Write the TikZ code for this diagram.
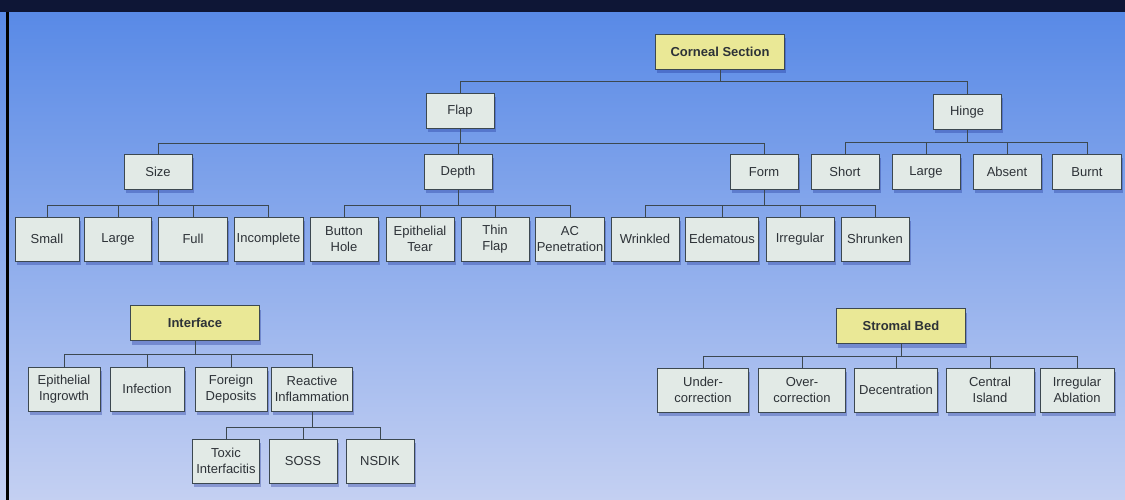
\documentclass[tikz,border=0pt]{standalone}
\usepackage{fontspec}
\setmainfont{Liberation Sans}
\usetikzlibrary{shadows}
\definecolor{boxfill}{RGB}{226,234,230}
\definecolor{headfill}{RGB}{234,232,150}
\definecolor{boxline}{RGB}{60,72,80}
\definecolor{txt}{RGB}{45,50,55}
\definecolor{bgtop}{RGB}{86,136,230}
\definecolor{bgbot}{RGB}{196,208,242}
\definecolor{navy}{RGB}{14,22,54}
\definecolor{shade}{RGB}{30,50,150}
\newcommand\treeconn[3]{\foreach \c in {#3} \draw[conn] (#1.south) -- ++(0,#2) -| (\c.north);}
\tikzset{
  box/.style={draw=boxline, line width=0.6pt, fill=boxfill, text=txt, align=center,
    inner sep=1pt, minimum width=68pt, minimum height=35pt,
    font=\fontsize{13}{16}\selectfont,
    drop shadow={shadow xshift=1.5pt, shadow yshift=-4pt, fill=shade, opacity=0.35}},
  tall/.style={box, minimum height=44pt},
  head/.style={box, fill=headfill, font=\fontsize{13}{16}\selectfont\bfseries, minimum width=129pt},
  conn/.style={draw=boxline, line width=0.7pt}
}
\begin{document}
\begin{tikzpicture}[x=1pt,y=-1pt]
\useasboundingbox (0,0) rectangle (1125,500);
\shade[top color=bgtop, bottom color=bgbot] (0,0) rectangle (1125,500);
\fill[navy] (0,0) rectangle (1125,12);
\fill[black] (6,12) rectangle (9,500);

% Corneal section tree
\node[head] (cs) at (720,52) {Corneal Section};
\node[box] (flap) at (460,111) {Flap};
\node[box] (hinge) at (967,112) {Hinge};
\node[box] (size) at (158,172) {Size};
\node[box] (depth) at (458,172) {Depth};
\node[box] (form) at (764,172) {Form};
\node[box] (short) at (845,172) {Short};
\node[box] (hlarge) at (926,172) {Large};
\node[box] (absent) at (1007,172) {Absent};
\node[box, minimum width=69pt] (burnt) at (1087,172) {Burnt};

\node[tall, minimum width=64pt] (small) at (47,239) {Small};
\node[tall, minimum width=67pt] (large) at (118,239) {Large};
\node[tall, minimum width=69pt] (full) at (193,239) {Full};
\node[tall, minimum width=69pt] (incomplete) at (268.5,239) {Incomplete};
\node[tall] (button) at (344,239) {Button\\Hole};
\node[tall] (eptear) at (420,239) {Epithelial\\Tear};
\node[tall] (thin) at (495,239) {Thin\\Flap};
\node[tall] (ac) at (570,239) {AC\\Penetration};
\node[tall] (wrinkled) at (645,239) {Wrinkled};
\node[tall, minimum width=73pt] (edematous) at (722,239) {Edematous};
\node[tall] (irregular) at (800,239) {Irregular};
\node[tall] (shrunken) at (875,239) {Shrunken};

\treeconn{cs}{12}{flap,hinge}
\treeconn{flap}{14.5}{size,depth,form}
\treeconn{hinge}{12.5}{short,hlarge,absent,burnt}
\treeconn{size}{15.5}{small,large,full,incomplete}
\treeconn{depth}{15.5}{button,eptear,thin,ac}
\treeconn{form}{15.5}{wrinkled,edematous,irregular,shrunken}

% Interface tree
\node[head] (iface) at (195,323) {Interface};
\node[tall, minimum width=72pt] (ingrowth) at (64,389) {Epithelial\\Ingrowth};
\node[tall, minimum width=74pt] (infection) at (147,389) {Infection};
\node[tall, minimum width=72pt] (foreign) at (231,389) {Foreign\\Deposits};
\node[tall, minimum width=81pt] (reactive) at (312,389) {Reactive\\Inflammation};
\node[tall, minimum width=67pt] (toxic) at (226,461) {Toxic\\Interfacitis};
\node[tall] (soss) at (303,461) {SOSS};
\node[tall] (nsdik) at (380,461) {NSDIK};

\treeconn{iface}{14}{ingrowth,infection,foreign,reactive}
\treeconn{reactive}{16}{toxic,soss,nsdik}

% Stromal bed tree
\node[head] (stromal) at (901,326) {Stromal Bed};
\node[tall, minimum width=91pt] (under) at (703,390) {Under-\\correction};
\node[tall, minimum width=87pt] (over) at (802,390) {Over-\\correction};
\node[tall, minimum width=83pt] (decent) at (896,390) {Decentration};
\node[tall, minimum width=88pt] (central) at (990,390) {Central\\Island};
\node[tall, minimum width=74pt] (ablation) at (1077,390) {Irregular\\Ablation};

\treeconn{stromal}{13}{under,over,decent,central,ablation}
\end{tikzpicture}
\end{document}
